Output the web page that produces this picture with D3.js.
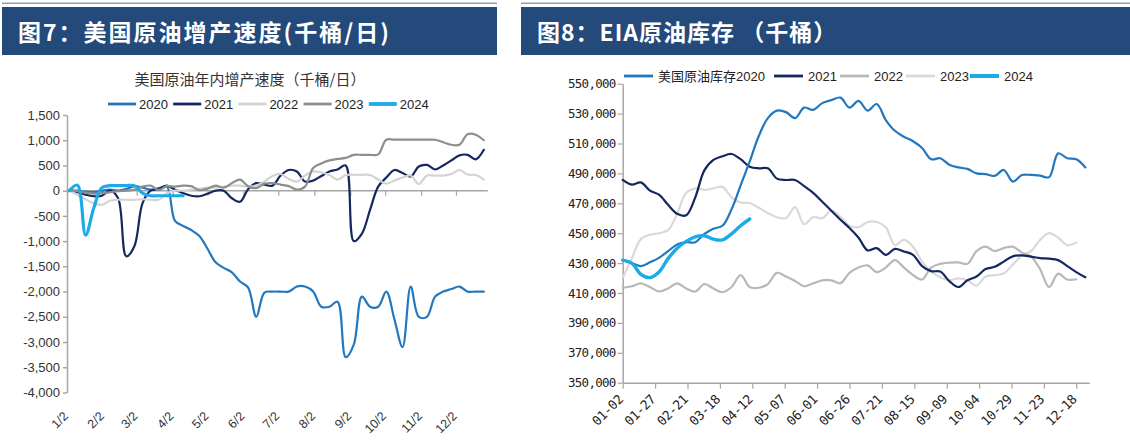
<!DOCTYPE html>
<html><head><meta charset="utf-8">
<script src="https://cdn.jsdelivr.net/npm/d3@7"></script>
<style>
html,body{margin:0;padding:0;background:#fff;}
svg{display:block;}
</style></head>
<body><svg id="c" width="1130" height="444"></svg>
<script>
// ---------------- DATA ----------------
const headerLeft = "图7：美国原油增产速度(千桶/日)";
const headerRight = "图8：EIA原油库存 （千桶）";
const leftTitle = "美国原油年内增产速度（千桶/日）";
const leftNames = ["2020", "2021", "2022", "2023", "2024"];
const leftYTicks = [1500, 1000, 500, 0, -500, -1000, -1500, -2000, -2500, -3000, -3500, -4000];
const leftMonthLabels = ["1/2","2/2","3/2","4/2","5/2","6/2","7/2","8/2","9/2","10/2","11/2","12/2"];
// weekly production change (kb/d)
const prod2020 = [0,0,-20,-30,0,20,0,30,90,60,20,50,80,-600,-700,-780,-900,-1150,-1420,-1530,-1620,-1800,-1920,-2500,-2020,-2000,-2000,-2000,-1900,-1900,-2000,-2300,-2300,-2200,-3300,-3050,-2100,-2300,-2300,-2000,-2550,-3100,-1900,-2500,-2500,-2100,-2000,-1950,-1900,-2000,-2000,-2000];
const prod2021 = [0,-30,-80,-110,-100,0,-150,-1300,-1100,-250,0,30,100,20,-50,-100,-110,-60,0,0,-150,-220,30,150,120,100,300,410,380,180,200,290,380,420,500,-1000,-850,-380,80,260,410,350,280,480,510,420,500,600,700,710,620,810];
const prod2022 = [0,-80,-170,-250,-280,-200,-180,-180,-180,-170,-180,-180,-50,0,0,20,40,60,60,80,100,100,80,100,180,290,330,230,180,300,380,360,310,220,310,315,315,310,220,140,200,260,300,130,300,300,300,330,410,320,310,220];
const prod2023 = [0,-10,-40,-60,-50,-30,-10,0,20,80,100,10,90,80,100,90,10,40,100,60,150,220,90,50,140,150,120,90,20,80,450,540,600,630,650,710,710,710,720,1010,1010,1010,1010,1010,1010,1010,960,910,910,1120,1110,1000];
const prod2024 = [0,110,-880,-350,60,100,100,100,100,-50,-100,-100,-100,-100,-100];

const rightNames = ["美国原油库存2020", "2021", "2022", "2023", "2024"];
const rightYTicks = [550000,530000,510000,490000,470000,450000,430000,410000,390000,370000,350000];
// weekly crude stocks (thousand barrels, in thousands)
const stock2020 = [432,430,428,430.5,433.5,438,442.5,444,444,449.5,453,455,466,482,498,515,527,532,531,527,534,532.5,537,539,540.7,534,538.5,532,536.4,525.7,518.5,514.5,511.5,507,499.5,500.1,495.8,494,493,490,489.5,488.3,492.3,484.5,488.9,489,488.5,487.5,503.4,500.1,499.4,494];
const stock2021 = [485.6,482.5,484,478.5,475.8,469,463,462,474,492,499,501.5,503,499.5,494.5,493.4,493.4,486.5,485.6,485.6,481.5,477,471,465,459,453.5,447,438.5,440,435.5,439.5,437.8,435.5,428,424.6,424.3,418,414,418.5,421,426,427.5,431,434.5,435.2,434.3,433.3,433,432,428,424,420.5];
const stock2022 = [413.5,414.5,416.5,414,411,413,416.5,413,411,416,413,410.5,414,422,414,413.5,416,423.5,421,418,414.5,416.5,418.5,418.5,416.5,423.5,427,428.5,424,427,432,427,422,419,427,429.5,430.3,430.5,429.5,438,441,438,440,441,437,434.5,426,414,423,419,419.2];
const stock2023 = [420,433,446,449,450,452,463,477,480,479,480,481,474,470.5,470.2,467,463.5,460.7,460.1,467.5,456,460.8,460,465,461,455,454,457.5,457.5,454,442,445.5,441,431,424.5,420.5,418.5,419.8,418.5,415,421,422,423,429,435,438,445.5,450,447,442,443.7];
const stock2024 = [432,430,422.5,420.3,424,433,440,444.5,447.5,448.3,446,445.5,449.5,455,459.5];

// ---------------- STYLE ----------------
const leftColors = ["#2377be", "#14285f", "#d3d3d3", "#8e8e8e", "#1cabe6"];
const leftWidths = [2.2, 2.2, 2.2, 2.2, 3.2];
const rightColors = ["#2377be", "#14285f", "#b8b8b8", "#d9d9d9", "#1cabe6"];
const rightWidths = [2.2, 2.2, 2.2, 2.2, 3.4];
const axisColor = "#a6a6a6";
const headerColor = "#24497b";

const svg = d3.select("#c");
const fmt = d3.formatLocale({decimal: ".", thousands: ",", grouping: [3], currency: ["", ""], minus: "-"}).format(",");

// ---------------- HEADERS ----------------
function header(x0, x1, text, ls) {
  svg.append("rect").attr("x", x0).attr("y", 2.5).attr("width", x1 - x0).attr("height", 1.5).attr("fill", "#8a9fbf");
  svg.append("rect").attr("x", x0).attr("y", 7).attr("width", x1 - x0).attr("height", 48).attr("fill", headerColor);
  svg.append("text").attr("x", x0 + 16).attr("y", 31).attr("dominant-baseline", "central")
    .attr("fill", "#fff").attr("font-family", "Noto Sans CJK SC").attr("font-weight", "bold")
    .attr("font-size", 23).attr("letter-spacing", ls).text(text);
}
header(2, 497, headerLeft, 2);
header(521, 1130, headerRight, 1);

// ---------------- LEFT CHART ----------------
const day = (y, m, d) => new Date(Date.UTC(y, m, d));
const xL = d3.scaleUtc().domain([day(2020,0,2), day(2021,0,1)]).range([67, 490.8]);
const yL = d3.scaleLinear().domain([-4000, 1500]).range([392.5, 115]);
const leftDate = i => day(2020, 0, 4 + 7 * i);
const leftMonthDates = leftMonthLabels.map(s => { const [m, d] = s.split("/").map(Number); return day(2020, m - 1, d); });

svg.append("text").attr("x", 250).attr("y", 78).attr("text-anchor", "middle").attr("dominant-baseline", "central")
  .attr("font-family", "Noto Sans CJK SC").attr("font-size", 15).attr("fill", "#333").text(leftTitle);

// y axis
const gyL = svg.append("g").attr("transform", `translate(${xL(day(2020,0,2))},0)`)
  .call(d3.axisLeft(yL).tickValues(leftYTicks).tickSize(4).tickSizeOuter(0).tickFormat(fmt));
gyL.select(".domain").attr("stroke", axisColor).attr("stroke-width", 1.5);
gyL.selectAll(".tick line").attr("stroke", axisColor).attr("stroke-width", 1.5);
gyL.selectAll("text").attr("font-family", "Liberation Sans").attr("font-size", 13).attr("fill", "#333").attr("x", -7);

// x axis at zero
const gxL = svg.append("g").attr("transform", `translate(0,${yL(0)})`)
  .call(d3.axisBottom(xL).tickValues(leftMonthDates).tickSize(5).tickSizeOuter(0).tickFormat(""));
gxL.select(".domain").attr("stroke", axisColor).attr("stroke-width", 1.5).attr("d", `M${xL.range()[0]},0H${xL.range()[1] - 3}`);
gxL.selectAll(".tick line").attr("stroke", axisColor).attr("stroke-width", 1.2);

svg.append("g").selectAll("text").data(leftMonthDates).join("text")
  .attr("transform", (d) => `translate(${xL(d) - 1},${414}) rotate(-45)`)
  .attr("text-anchor", "end").attr("dominant-baseline", "central")
  .attr("font-family", "Liberation Sans").attr("font-size", 12.5).attr("fill", "#333")
  .text((d, i) => leftMonthLabels[i]);

const leftSeries = [prod2020, prod2021, prod2022, prod2023, prod2024];
const lineL = d3.line().x((d, i) => xL(leftDate(i))).y(d => yL(d)).curve(d3.curveCatmullRom.alpha(0.5));
svg.append("g").selectAll("path").data(leftSeries).join("path")
  .attr("d", d => lineL(d)).attr("fill", "none")
  .attr("stroke", (d, i) => leftColors[i]).attr("stroke-width", (d, i) => leftWidths[i])
  .attr("stroke-linejoin", "round").attr("stroke-linecap", "round");

// legend left
const legL = svg.append("g");
leftNames.forEach((n, i) => {
  const x0 = 108 + i * 65.2;
  legL.append("line").attr("x1", x0).attr("x2", x0 + 28).attr("y1", 104).attr("y2", 104)
    .attr("stroke", leftColors[i]).attr("stroke-width", leftWidths[i] + 0.6);
  legL.append("text").attr("x", x0 + 31).attr("y", 104).attr("dominant-baseline", "central")
    .attr("font-family", "Liberation Sans").attr("font-size", 13).attr("fill", "#222").text(n);
});

// ---------------- RIGHT CHART ----------------
const r0 = day(2023, 0, 2);
const xR = d3.scaleUtc().domain([r0, day(2023, 11, 28)]).range([622.7, 622.7 + 360 * 1.296]);
const yR = d3.scaleLinear().domain([350, 550]).range([382.7, 83.7]);
const rightDate = i => d3.utcDay.offset(r0, 7 * i);
const rightTickDates = d3.range(15).map(k => d3.utcDay.offset(r0, 25 * k));

const gyR = svg.append("g").attr("transform", `translate(${xR.range()[0]},0)`)
  .call(d3.axisLeft(yR).tickValues(rightYTicks.map(v => v / 1000)).tickSize(5).tickSizeOuter(0).tickFormat(v => fmt(v * 1000)));
gyR.select(".domain").attr("stroke", axisColor).attr("stroke-width", 1.5);
gyR.selectAll(".tick line").attr("stroke", axisColor).attr("stroke-width", 1.2);
gyR.selectAll("text").attr("font-family", "DejaVu Sans Mono").attr("font-size", 12.5).attr("letter-spacing", -0.7).attr("fill", "#222").attr("x", -7);

const gxR = svg.append("g").attr("transform", `translate(0,${yR(350)})`)
  .call(d3.axisBottom(xR).tickValues(rightTickDates).tickSize(6).tickSizeOuter(0).tickFormat(""));
gxR.select(".domain").attr("stroke", axisColor).attr("stroke-width", 1.5);
gxR.selectAll(".tick line").attr("stroke", axisColor).attr("stroke-width", 1.2);

const fmtMD = d3.utcFormat("%m-%d");
svg.append("g").selectAll("text").data(rightTickDates).join("text")
  .attr("transform", d => `translate(${xR(d) - 2},${397}) rotate(-45)`)
  .attr("text-anchor", "end").attr("dominant-baseline", "central")
  .attr("font-family", "DejaVu Sans Mono").attr("font-size", 13).attr("letter-spacing", -0.4).attr("fill", "#222")
  .text(d => fmtMD(d));

const rightSeries = [stock2020, stock2021, stock2022, stock2023, stock2024];
const lineR = d3.line().x((d, i) => xR(rightDate(i))).y(d => yR(d)).curve(d3.curveCatmullRom.alpha(0.5));
const drawOrder = [3, 2, 1, 0, 4];
svg.append("g").selectAll("path").data(drawOrder).join("path")
  .attr("d", k => lineR(rightSeries[k])).attr("fill", "none")
  .attr("stroke", k => rightColors[k]).attr("stroke-width", k => rightWidths[k])
  .attr("stroke-linejoin", "round").attr("stroke-linecap", "round");

// legend right
const legR = svg.append("g");
const legRX = [624, 774, 840, 906, 970];
rightNames.forEach((n, i) => {
  const x0 = legRX[i];
  legR.append("line").attr("x1", x0).attr("x2", x0 + 29).attr("y1", 76).attr("y2", 76)
    .attr("stroke", rightColors[i]).attr("stroke-width", rightWidths[i] + 0.6);
  legR.append("text").attr("x", x0 + 34).attr("y", 76).attr("dominant-baseline", "central")
    .attr("font-family", "Liberation Sans, Noto Sans CJK SC").attr("font-size", 13).attr("fill", "#222").text(n);
});
</script>
</body></html>
